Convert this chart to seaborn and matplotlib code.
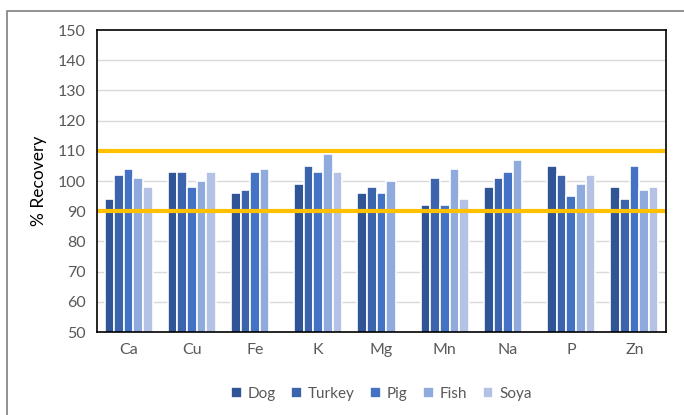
import pandas as pd
import numpy as np
import seaborn as sns
import matplotlib.pyplot as plt
from matplotlib.patches import Rectangle

# Values (NaN = bar not shown)
elements = ['Ca', 'Cu', 'Fe', 'K', 'Mg', 'Mn', 'Na', 'P', 'Zn']
dog = [94, 103, 96, 99, 96, 92, 98, 105, 98]
turkey = [102, 103, 97, 105, 98, 101, 101, 102, 94]
pig = [104, 98, 103, 103, 96, 92, 103, 95, 105]
fish = [101, 100, 104, 109, 100, 104, 107, 99, 97]
soya = [98, 103, np.nan, 103, np.nan, 94, np.nan, 102, 98]

species = ['Dog', 'Turkey', 'Pig', 'Fish', 'Soya']
colors = ['#2F5597', '#3B64AD', '#4472C4', '#8FAADC', '#B4C3E5']

wide = pd.DataFrame({'Element': elements, 'Dog': dog, 'Turkey': turkey,
                     'Pig': pig, 'Fish': fish, 'Soya': soya})
df = wide.melt(id_vars='Element', var_name='Sample', value_name='Recovery')

sns.set_theme(style="white")
plt.rcParams['font.family'] = ['Lato', 'DejaVu Sans']
text_col = '#595959'

fig = plt.figure(figsize=(6.84, 4.15), dpi=100)
ax = fig.add_axes([97 / 684, 1 - 332 / 415, (666 - 97) / 684, (332 - 30) / 415])

sns.barplot(data=df, x='Element', y='Recovery', hue='Sample',
            hue_order=species, palette=colors, order=elements,
            width=0.76, edgecolor='white', linewidth=1.2,
            saturation=1, errorbar=None, ax=ax, zorder=3)

ax.set_ylim(50, 150)
ax.set_yticks(range(50, 151, 10))
for y in range(60, 150, 10):
    ax.axhline(y, color='#D9D9D9', lw=1, zorder=0)
for y in (90, 110):
    ax.axhline(y, color='#FFC000', lw=3, zorder=4)

for s in ax.spines.values():
    s.set_visible(True)
    s.set_color('black')
    s.set_linewidth(1.2)
    s.set_zorder(6)

ax.tick_params(axis='both', colors=text_col, labelsize=11.5, length=0, pad=8)
ax.set_xlabel('')
ax.set_ylabel('% Recovery', fontsize=12.5, color='black', labelpad=8)

ax.legend(loc='upper center', bbox_to_anchor=(0.5, -0.135), ncol=5,
          frameon=False, fontsize=11, labelcolor=text_col,
          handlelength=0.7, handleheight=0.7, handletextpad=0.4, columnspacing=1.0)

# outer chart border
fig.patches.append(Rectangle((7 / 684, -0.1), 1.2, 1 - 11 / 415 + 0.1,
                             transform=fig.transFigure, fill=False,
                             edgecolor='#7F7F7F', lw=1.2))

plt.savefig('out.png', dpi=100)
